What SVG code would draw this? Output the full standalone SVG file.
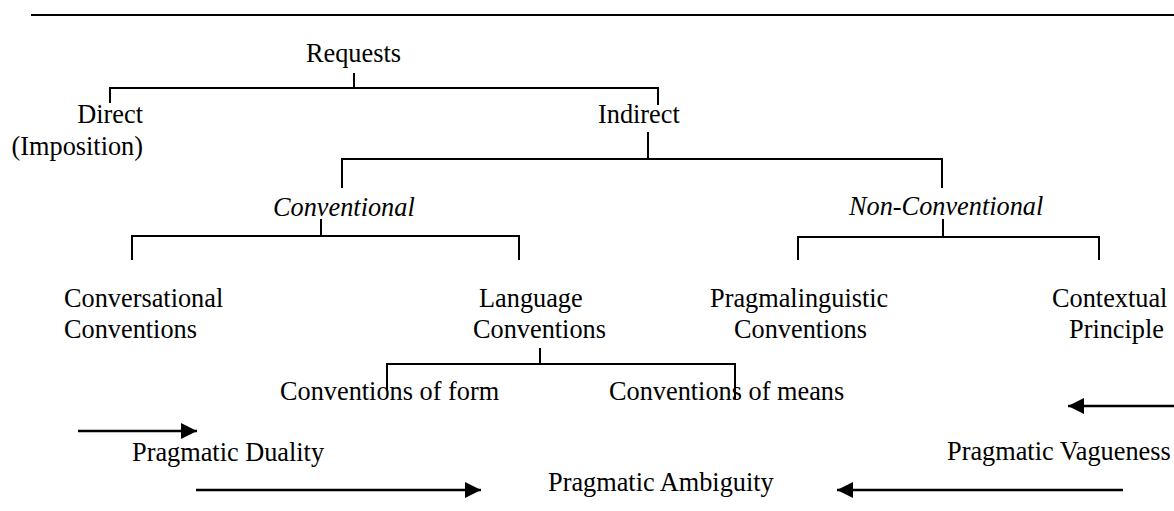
<svg xmlns="http://www.w3.org/2000/svg" width="1174" height="511" viewBox="0 0 1174 511">
<style>
text{font-family:"Liberation Serif","Times New Roman",serif;font-size:26.3px;fill:#000}
.it{font-style:italic}
.ln{stroke:#000;stroke-width:2;fill:none}
.ar{stroke:#000;stroke-width:2.6;fill:none;marker-end:url(#ah)}
</style>
<defs>
<marker id="ah" markerUnits="userSpaceOnUse" markerWidth="17" markerHeight="17" refX="16" refY="8" orient="auto" viewBox="0 0 17 17">
<path d="M0,0 L16,8 L0,16 z" fill="#000"/>
</marker>
</defs>
<rect width="1174" height="511" fill="#fff"/>
<g id="connectors">
<path class="ln" d="M31,15 H1174"/>
<path class="ln" d="M354,73 V88 M110,103 V88 H658 V105"/>
<path class="ln" d="M648,132 V159 M342,188 V159 H942 V188"/>
<path class="ln" d="M321,219 V236 M132,260 V236 H519 V260"/>
<path class="ln" d="M943,219 V237 M798,260 V237 H1099 V260"/>
<path class="ln" d="M540,348 V364 M387,391 V364 H735 V399"/>
<path class="ar" d="M78,431 H197"/>
<path class="ar" d="M196,490 H481"/>
<path class="ar" d="M1123,490 H837"/>
<path class="ar" d="M1174,406 H1068"/>
</g>
<g id="requests"><text x="306" y="62">Requests</text></g>
<g id="direct"><text x="143" y="123" text-anchor="end">Direct</text><text x="143" y="155" text-anchor="end">(Imposition)</text></g>
<g id="indirect"><text x="598" y="123">Indirect</text></g>
<g id="conventional"><text class="it" x="273" y="216">Conventional</text></g>
<g id="non-conventional"><text class="it" x="849" y="215">Non-Conventional</text></g>
<g id="conversational"><text x="64" y="307">Conversational</text><text x="64" y="338">Conventions</text></g>
<g id="language"><text x="479" y="307">Language</text><text x="473" y="338">Conventions</text></g>
<g id="pragmalinguistic"><text x="710" y="307">Pragmalinguistic</text><text x="734" y="338">Conventions</text></g>
<g id="contextual"><text x="1052" y="307">Contextual</text><text x="1069" y="338">Principle</text></g>
<g id="form"><text x="280" y="400">Conventions of form</text></g>
<g id="means"><text x="609" y="400">Conventions of means</text></g>
<g id="duality"><text x="132" y="461">Pragmatic Duality</text></g>
<g id="ambiguity"><text x="548" y="491">Pragmatic Ambiguity</text></g>
<g id="vagueness"><text x="947" y="460">Pragmatic Vagueness</text></g>
</svg>
